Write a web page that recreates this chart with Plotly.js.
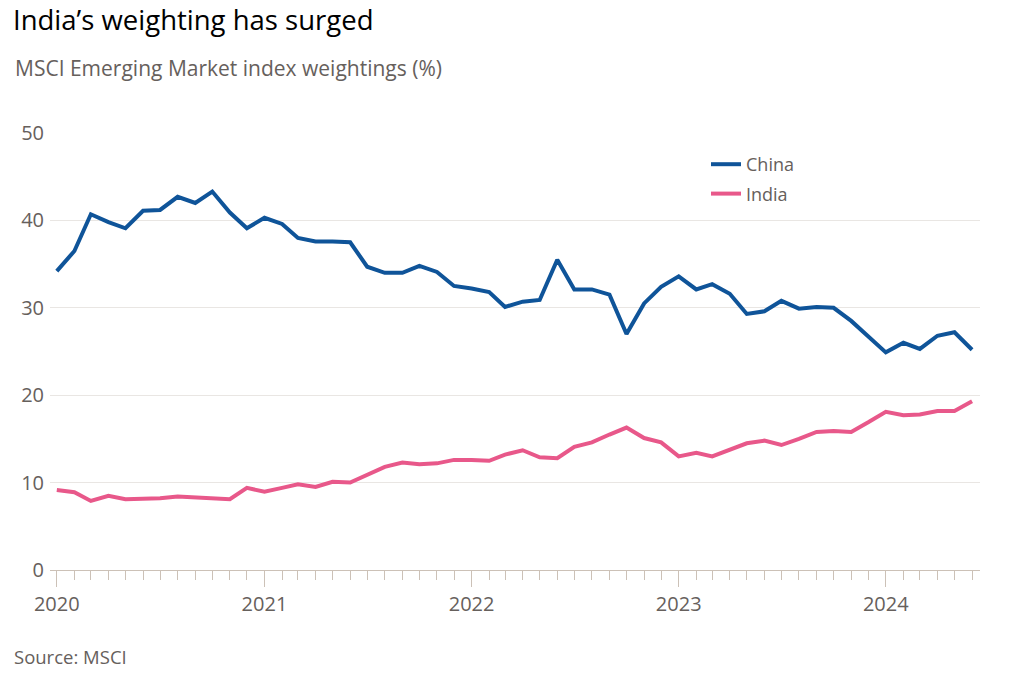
<!DOCTYPE html>
<html>
<head>
<meta charset="utf-8">
<script src="https://cdn.plot.ly/plotly-3.0.1.min.js"></script>
<style>html,body{margin:0;padding:0;background:#fff;}#chart{width:1012px;height:673px;}</style>
</head>
<body>
<div id="chart"></div>
<script>
const months = [];
for (let y = 2020; y <= 2024; y++) {
  for (let m = 1; m <= 12; m++) {
    if (y === 2024 && m > 6) break;
    months.push(y + '-' + String(m).padStart(2, '0') + '-01');
  }
}
const china = [
  34.2, 36.5, 40.7, 39.8, 39.1, 41.1, 41.2, 42.7, 42.0, 43.3, 40.9, 39.1,
  40.3, 39.6, 38.0, 37.6, 37.6, 37.5, 34.7, 34.0, 34.0, 34.8, 34.1, 32.5,
  32.2, 31.8, 30.1, 30.7, 30.9, 35.5, 32.1, 32.1, 31.5, 27.0, 30.5, 32.4,
  33.6, 32.1, 32.7, 31.6, 29.3, 29.6, 30.8, 29.9, 30.1, 30.0, 28.5, 26.7,
  24.9, 26.0, 25.3, 26.8, 27.2, 25.2
];
const india = [
  9.15, 8.9, 7.9, 8.5, 8.1, 8.1, 8.2, 8.4, 8.3, 8.2, 8.1, 9.4,
  8.95, 9.4, 9.8, 9.5, 10.1, 10.0, 10.9, 11.8, 12.3, 12.1, 12.2, 12.6,
  12.6, 12.5, 13.2, 13.7, 12.9, 12.8, 14.1, 14.6, 15.5, 16.3, 15.1, 14.6,
  13.0, 13.4, 13.0, 13.8, 14.5, 14.8, 14.3, 15.0, 15.8, 15.9, 15.8, 16.9,
  18.1, 17.7, 17.8, 18.2, 18.2, 19.3
];
const yTicks = [0, 10, 20, 30, 40, 50];

const grey = '#66605c';
const font = '"Open Sans", Lato, sans-serif';

const traces = [
  {x: months, y: china, name: 'China', type: 'scatter', mode: 'lines', legendgroup: 'c',
   line: {color: '#0f5499', width: 4, shape: 'linear'}},
  {x: months, y: india, name: 'India', type: 'scatter', mode: 'lines', legendgroup: 'i',
   line: {color: '#e8588a', width: 4, shape: 'linear'}}
];

const layout = {
  width: 1012, height: 673,
  paper_bgcolor: '#fff', plot_bgcolor: '#fff',
  margin: {l: 50, r: 32, t: 133, b: 103},
  font: {family: font, color: grey, size: 18},
  title: {
    text: 'India\u2019s weighting has surged',
    font: {family: font, size: 27.5, color: '#000'},
    xref: 'container', yref: 'container', x: 13/1012, xanchor: 'left',
    y: 1 - 20/673, yanchor: 'middle'
  },
  showlegend: true,
  legend: {
    font: {family: font, size: 18, color: grey},
    bgcolor: 'rgba(0,0,0,0)', traceorder: 'grouped', tracegroupgap: 3, itemwidth: 30,
    xanchor: 'left', yanchor: 'top'
  },
  xaxis: {
    type: 'date',
    range: ['2019-12-20', '2024-06-15'],
    tickformat: '%Y', dtick: 'M12', tick0: '2020-01-01',
    ticks: 'outside', ticklen: 16, tickcolor: '#ccc1b7', tickwidth: 1,
    showgrid: false, zeroline: false,
    showline: true, linecolor: '#ccc1b7', linewidth: 1,
    tickfont: {family: font, size: 20, color: grey},
    minor: {dtick: 'M1', tick0: '2020-01-01', ticks: 'outside', ticklen: 9, tickcolor: '#ccc1b7', tickwidth: 1, showgrid: false},
    fixedrange: true
  },
  yaxis: {
    range: [0, 50], tickvals: yTicks, ticktext: yTicks.map(String),
    showgrid: true, gridcolor: '#e9e6e3', gridwidth: 1,
    zeroline: false, showline: false, ticks: '',
    tickfont: {family: font, size: 20, color: grey},
    ticklabelstandoff: 5,
    fixedrange: true
  },
  annotations: [
    {text: 'MSCI Emerging Market index weightings (%)', xref: 'paper', yref: 'paper',
     x: -37/930, y: 1 + 65/437, xanchor: 'left', yanchor: 'middle', showarrow: false,
     font: {family: font, size: 21, color: grey}},
    {text: 'Source: MSCI', xref: 'paper', yref: 'paper',
     x: -38/930, y: -86/437, xanchor: 'left', yanchor: 'middle', showarrow: false,
     font: {family: font, size: 18.5, color: grey}}
  ]
};
layout.legend.x = (706 - 50) / 930;
layout.legend.y = 1 - (146 - 133) / 437;

Plotly.newPlot('chart', traces, layout, {displayModeBar: false, staticPlot: true});
</script>
</body>
</html>
